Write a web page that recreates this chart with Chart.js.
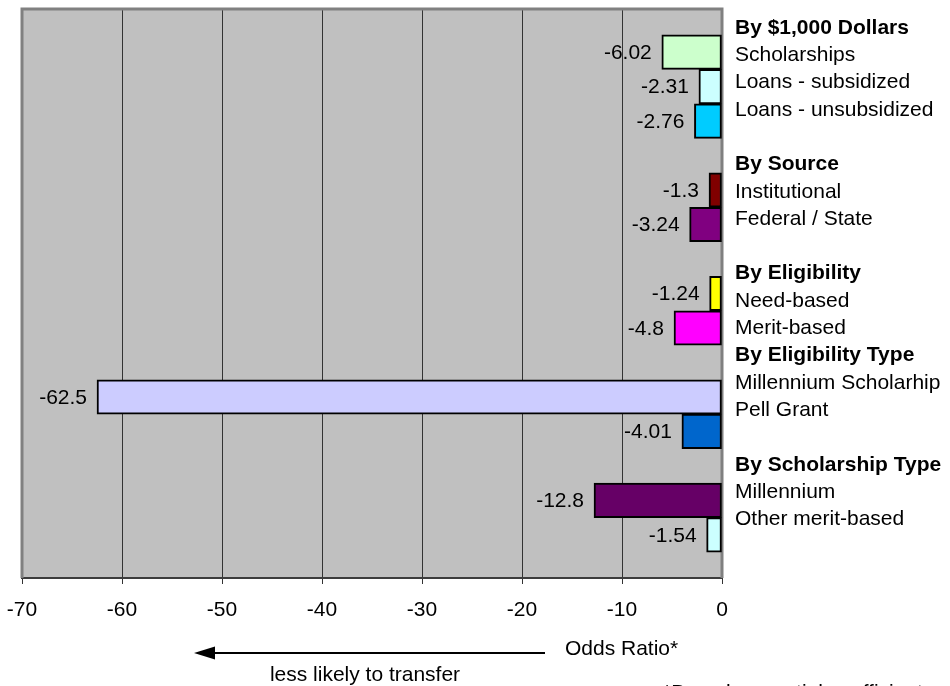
<!DOCTYPE html>
<html>
<head>
<meta charset="utf-8">
<script src="https://cdn.jsdelivr.net/npm/chart.js@4/dist/chart.umd.min.js"></script>
<style>
  html, body { margin: 0; padding: 0; background: #ffffff; }
  canvas { display: block; }
</style>
</head>
<body>
<canvas id="chart" width="950" height="686"></canvas>
<script>
// Aid groups shown as headers in the right-hand column
const groupHeaders = ['By $1,000 Dollars', 'By Source', 'By Eligibility', 'By Eligibility Type', 'By Scholarship Type'];
// A blank line precedes these groups in the right-hand column
const groupBreakBefore = [false, true, true, false, true];

// One bar per aid category
const categories = [
  'Scholarships', 'Loans - subsidized', 'Loans - unsubsidized',
  'Institutional', 'Federal / State',
  'Need-based', 'Merit-based',
  'Millennium Scholarhip', 'Pell Grant',
  'Millennium', 'Other merit-based'
];
const categoryGroup = [0, 0, 0, 1, 1, 2, 2, 3, 3, 4, 4];
const oddsRatios = [-6.02, -2.31, -2.76, -1.3, -3.24, -1.24, -4.8, -62.5, -4.01, -12.8, -1.54];
const barColors = ['#CCFFCC', '#CCFFFF', '#00CCFF', '#800000', '#800080', '#FFFF00', '#FF00FF', '#CCCCFF', '#0066CC', '#660066', '#CCFFFF'];

// Value axis ticks
const xTickMin = -70, xTickMax = 0, xTickStep = 10;

const axisTitle = 'Odds Ratio*';
const arrowCaption = 'less likely to transfer';
const footnote = '*Based on partial coefficient w';

const FONT = '"Liberation Sans", Arial, Helvetica, sans-serif';
const TEXT_SIZE = 21;

// Each group sits on consecutive rows, with one empty row between groups
const rows = categories.map((c, i) => i + categoryGroup[i]);
const lastRow = rows[rows.length - 1];

// Lines of the right-hand column: headers followed by their categories
const legendLines = [];
groupHeaders.forEach((h, g) => {
  if (groupBreakBefore[g]) legendLines.push(null);
  legendLines.push({ text: h, bold: true });
  categories.forEach((c, i) => { if (categoryGroup[i] === g) legendLines.push({ text: c, bold: false }); });
});

const plotDecor = {
  id: 'plotDecor',
  beforeDraw(chart) {
    const { ctx, chartArea: a } = chart;
    ctx.save();
    ctx.fillStyle = '#C0C0C0';
    ctx.fillRect(a.left, a.top, a.right - a.left, a.bottom - a.top);
    ctx.restore();
  },
  beforeDatasetsDraw(chart) {
    const { ctx, chartArea: a } = chart;
    ctx.save();
    ctx.strokeStyle = '#808080';
    ctx.lineWidth = 3;
    ctx.beginPath();
    ctx.moveTo(a.left, a.bottom);
    ctx.lineTo(a.left, a.top);
    ctx.lineTo(a.right, a.top);
    ctx.lineTo(a.right, a.bottom);
    ctx.stroke();
    ctx.restore();
  },
  afterDatasetsDraw(chart) {
    const { ctx } = chart;
    const meta = chart.getDatasetMeta(0);
    ctx.save();
    ctx.font = `${TEXT_SIZE}px ${FONT}`;
    ctx.fillStyle = '#000000';
    ctx.textAlign = 'right';
    ctx.textBaseline = 'middle';
    meta.data.forEach((bar, i) => {
      ctx.fillText(String(oddsRatios[i]), bar.x - 10, bar.y + 1);
    });
    ctx.restore();
  },
  afterDraw(chart) {
    const { ctx, chartArea: a } = chart;
    ctx.save();
    ctx.fillStyle = '#000000';
    ctx.textBaseline = 'middle';
    ctx.textAlign = 'left';
    // right-hand category column
    const lineStep = 27.3;
    legendLines.forEach((ln, k) => {
      if (!ln) return;
      ctx.font = `${ln.bold ? 'bold ' : ''}${TEXT_SIZE}px ${FONT}`;
      ctx.fillText(ln.text, a.right + 13, a.top + 19 + k * lineStep);
    });
    // axis title and direction arrow
    ctx.font = `${TEXT_SIZE}px ${FONT}`;
    ctx.fillText(axisTitle, 565, 649);
    ctx.strokeStyle = '#000000';
    ctx.lineWidth = 2;
    ctx.beginPath();
    ctx.moveTo(545, 653);
    ctx.lineTo(210, 653);
    ctx.stroke();
    ctx.beginPath();
    ctx.moveTo(194, 653);
    ctx.lineTo(215, 646.5);
    ctx.lineTo(215, 659.5);
    ctx.closePath();
    ctx.fill();
    ctx.textAlign = 'center';
    ctx.fillText(arrowCaption, 365, 675);
    ctx.textAlign = 'left';
    ctx.textBaseline = 'top';
    ctx.fillText(footnote, 663, 683);
    ctx.restore();
  }
};

new Chart(document.getElementById('chart'), {
  type: 'bar',
  data: {
    datasets: [{
      data: oddsRatios.map((v, i) => ({ x: v, y: rows[i] })),
      backgroundColor: barColors,
      borderColor: '#000000',
      borderWidth: 2,
      borderSkipped: false,
      barPercentage: 1,
      categoryPercentage: 1
    }]
  },
  options: {
    indexAxis: 'y',
    responsive: false,
    animation: false,
    events: [],
    layout: { padding: { left: 22, right: 228, top: 9, bottom: 0 } },
    plugins: { legend: { display: false }, tooltip: { enabled: false } },
    scales: {
      x: {
        type: 'linear',
        min: xTickMin,
        max: xTickMax,
        afterFit(scale) {
          scale.height = 108;
          scale.paddingLeft = 0;
          scale.paddingRight = 0;
        },
        ticks: {
          stepSize: xTickStep,
          color: '#000000',
          padding: 14,
          maxRotation: 0,
          font: { family: FONT, size: TEXT_SIZE }
        },
        grid: {
          color: (ctx) => (ctx.tick && (ctx.tick.value === xTickMin || ctx.tick.value === xTickMax)) ? 'rgba(0,0,0,0)' : '#333333',
          lineWidth: 1,
          tickColor: '#333333',
          tickLength: 6,
          drawTicks: true,
          offset: false
        },
        border: { display: true, color: '#3c3c3c', width: 2 }
      },
      y: {
        type: 'linear',
        display: false,
        reverse: true,
        offset: false,
        grace: 0,
        min: -1.25,
        max: lastRow + 1.25,
        ticks: { stepSize: 1, includeBounds: false },
        grid: { offset: false }
      }
    }
  },
  plugins: [plotDecor]
});
</script>
</body>
</html>
